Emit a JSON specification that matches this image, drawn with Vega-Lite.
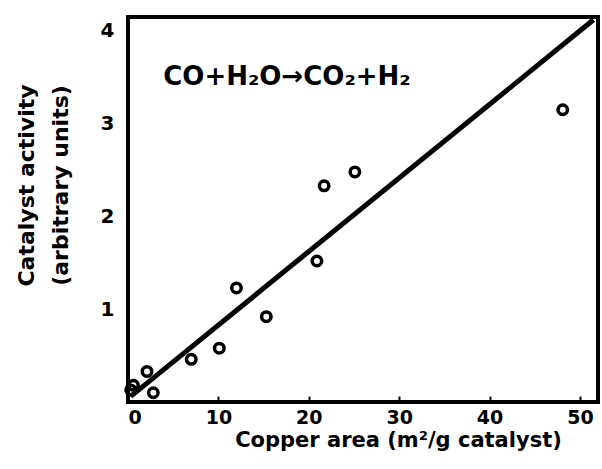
{
  "$schema": "https://vega.github.io/schema/vega-lite/v6.json",
  "autosize": "none",
  "width": 470,
  "height": 385,
  "padding": {"left": 128, "top": 17, "right": 4, "bottom": 67},
  "background": "white",
  "config": {
    "view": {"stroke": "black", "strokeWidth": 4},
    "font": "DejaVu Sans"
  },
  "datasets": {
    "pts": [
      {"x": 0.3, "y": 0.13},
      {"x": 0.6, "y": 0.18},
      {"x": 2.1, "y": 0.33},
      {"x": 2.8, "y": 0.1},
      {"x": 7.0, "y": 0.46},
      {"x": 10.1, "y": 0.58},
      {"x": 12.0, "y": 1.23},
      {"x": 15.3, "y": 0.92},
      {"x": 20.9, "y": 1.52},
      {"x": 21.7, "y": 2.33},
      {"x": 25.1, "y": 2.48},
      {"x": 48.1, "y": 3.15}
    ],
    "fit": [
      {"x": 0.3, "y": 0.06},
      {"x": 51.5, "y": 4.12}
    ],
    "label": [
      {"x": 3.9, "y": 3.5, "t": "CO+H₂O→CO₂+H₂"}
    ]
  },
  "layer": [
    {
      "data": {"name": "fit"},
      "mark": {"type": "line", "color": "black", "strokeWidth": 5, "clip": true},
      "encoding": {
        "x": {
          "field": "x", "type": "quantitative",
          "scale": {"domain": [0, 52], "nice": false, "zero": false},
          "axis": {
            "title": "Copper area (m²/g catalyst)",
            "values": [0, 10, 20, 30, 40, 50],
            "format": "d",
            "grid": false,
            "domain": false,
            "ticks": true,
            "tickSize": -6,
            "tickWidth": 2,
            "tickColor": "black",
            "labelFont": "DejaVu Sans",
            "labelFontWeight": "bold",
            "labelFontSize": 19,
            "labelColor": "black",
            "labelPadding": 12,
            "titleFont": "DejaVu Sans",
            "titleFontWeight": "bold",
            "titleFontSize": 21,
            "titleColor": "black",
            "titleX": 270,
            "titlePadding": 2
          }
        },
        "y": {
          "field": "y", "type": "quantitative",
          "scale": {"domain": [0, 4.15], "nice": false, "zero": false},
          "axis": {
            "title": ["Catalyst activity", "(arbitrary units)"],
            "values": [1, 2, 3, 4],
            "format": "d",
            "grid": false,
            "domain": false,
            "ticks": false,
            "labelFont": "DejaVu Sans",
            "labelFontWeight": "bold",
            "labelFontSize": 20,
            "labelColor": "black",
            "labelPadding": 14,
            "titleFont": "DejaVu Sans",
            "titleFontWeight": "bold",
            "titleFontSize": 22,
            "titleColor": "black",
            "titleY": 168,
            "titlePadding": 28,
            "titleLineHeight": 34
          }
        }
      }
    },
    {
      "data": {"name": "pts"},
      "mark": {"type": "point", "shape": "circle", "filled": false, "stroke": "black", "opacity": 1, "strokeWidth": 3.5, "size": 90},
      "encoding": {
        "x": {"field": "x", "type": "quantitative"},
        "y": {"field": "y", "type": "quantitative"}
      }
    },
    {
      "data": {"name": "label"},
      "mark": {"type": "text", "align": "left", "baseline": "middle", "fontSize": 26, "fontWeight": "bold", "font": "DejaVu Sans", "color": "black"},
      "encoding": {
        "x": {"field": "x", "type": "quantitative"},
        "y": {"field": "y", "type": "quantitative"},
        "text": {"field": "t"}
      }
    }
  ]
}
